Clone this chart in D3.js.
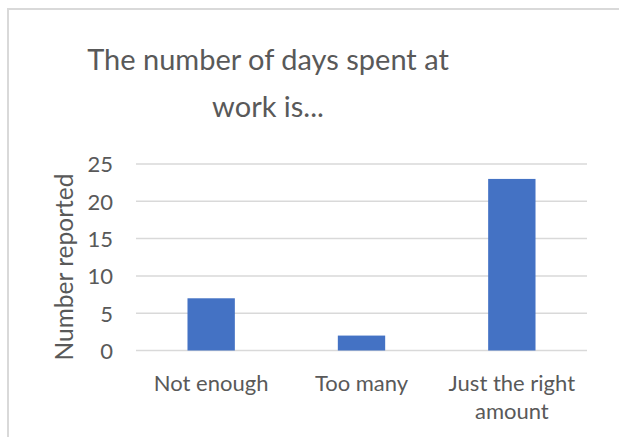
<!DOCTYPE html>
<html>
<head>
<meta charset="utf-8">
<script src="https://cdn.jsdelivr.net/npm/d3@7"></script>
<style>
  html, body { margin: 0; padding: 0; background: #ffffff; }
  svg { display: block; }
  text { font-family: Lato, "Open Sans", sans-serif; fill: #595959; }
</style>
</head>
<body>
<svg id="chart" width="619" height="437"></svg>
<script>
// Survey answers: how people feel about their number of days at work
const categories = ["Not enough", "Too many", "Just the right amount"];
const counts = [7, 2, 23];
const yTicks = [0, 5, 10, 15, 20, 25];
const titleLines = ["The number of days spent at", "work is..."];
const yAxisTitle = "Number reported";

const svg = d3.select("#chart");
const W = 619, H = 437;

// Chart frame (runs off the right and bottom of the view)
svg.append("rect")
  .attr("x", 8).attr("y", 9)
  .attr("width", W + 20).attr("height", H + 20)
  .attr("fill", "#ffffff")
  .attr("stroke", "#d9d9d9").attr("stroke-width", 2);

const plot = { left: 136, right: 587, top: 164, bottom: 350.5 };

const x = d3.scaleBand()
  .domain(categories)
  .range([plot.left, plot.right])
  .paddingInner(0.685)
  .paddingOuter(0.3425);

const y = d3.scaleLinear()
  .domain([0, 25])
  .range([plot.bottom, plot.top]);

// Horizontal gridlines
svg.append("g")
  .selectAll("line")
  .data(yTicks)
  .join("line")
  .attr("x1", plot.left).attr("x2", plot.right)
  .attr("y1", d => y(d)).attr("y2", d => y(d))
  .attr("stroke", "#d9d9d9").attr("stroke-width", 1.5);

// Y axis tick labels
const yAxis = d3.axisLeft(y).tickValues(yTicks).tickSize(0).tickPadding(0);
const gy = svg.append("g")
  .attr("transform", `translate(${plot.left - 23},0)`)
  .call(yAxis);
gy.select(".domain").remove();
gy.selectAll("text")
  .attr("font-size", 22)
  .attr("font-family", "Lato, 'Open Sans', sans-serif")
  .attr("fill", "#595959")
  .attr("dy", "0.36em");

// Bars
svg.append("g")
  .selectAll("rect")
  .data(categories.map((c, i) => ({ c, v: counts[i] })))
  .join("rect")
  .attr("x", d => x(d.c))
  .attr("width", x.bandwidth())
  .attr("y", d => y(d.v))
  .attr("height", d => y(0) - y(d.v))
  .attr("fill", "#4472c4");

// X axis category labels (wrapped to the band width)
const xAxis = d3.axisBottom(x).tickSize(0).tickPadding(0);
const gx = svg.append("g")
  .attr("transform", `translate(0,${plot.bottom})`)
  .call(xAxis);
gx.select(".domain").remove();
gx.selectAll("text").remove();
gx.selectAll(".tick").each(function (d) {
  const words = d === "Just the right amount" ? ["Just the right", "amount"] : [d];
  const t = d3.select(this).append("text")
    .attr("text-anchor", "middle")
    .attr("font-size", 22)
    .attr("fill", "#595959");
  words.forEach((w, i) => {
    t.append("tspan").attr("x", 0).attr("y", 40 + i * 28).text(w);
  });
});

// Axis title
svg.append("text")
  .attr("transform", "translate(72.5,267) rotate(-90)")
  .attr("text-anchor", "middle")
  .attr("font-size", 24.5)
  .text(yAxisTitle);

// Chart title
svg.append("g")
  .selectAll("text")
  .data(titleLines)
  .join("text")
  .attr("x", 268)
  .attr("y", (d, i) => 70 + i * 47)
  .attr("text-anchor", "middle")
  .attr("font-size", 29)
  .text(d => d);
</script>
</body>
</html>
